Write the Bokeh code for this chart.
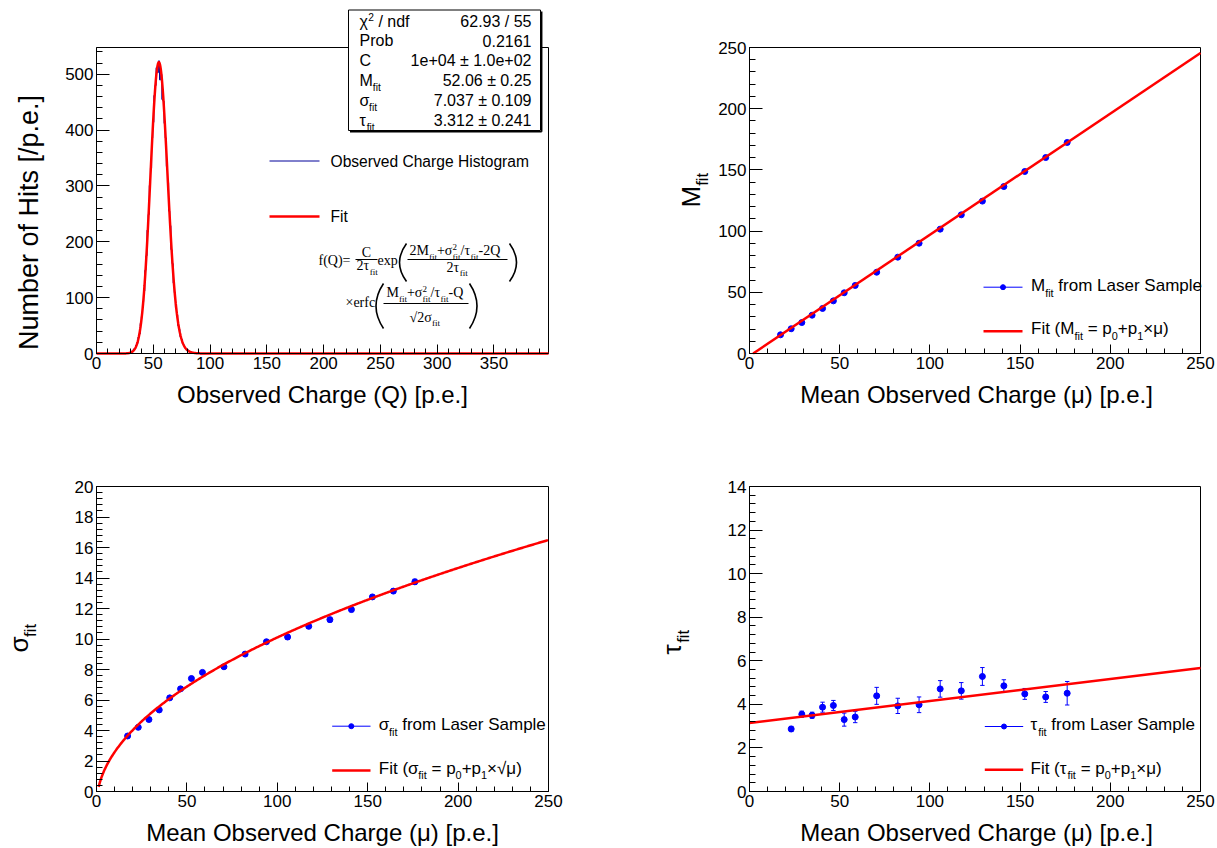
import math
from bokeh.plotting import figure
from bokeh.layouts import gridplot
from bokeh.models import Label, FixedTicker, LinearAxis
from bokeh.embed import file_html
from bokeh.resources import INLINE

# ---------------- data ----------------
hist_first_edge = 27.5          # lower edge of first non-empty bin [p.e.]
hist_bin_width = 1.0
hist_counts = [1, 0, 2, 4, 4, 8, 9, 15, 18, 29,
               35, 54, 66, 93, 112, 149, 175, 221, 249, 301,
               332, 386, 414, 462, 480, 512, 503, 524, 490, 500,
               455, 452, 412, 386, 335, 306, 255, 229, 186, 161,
               126, 109, 82, 69, 50, 43, 30, 26, 18, 15,
               10, 9, 5, 6, 3, 3, 2, 1, 1, 0, 1]
hist_xmax = 398.0
hist_ymax = 548.0
fit_C, fit_M, fit_sigma, fit_tau = 1.0e4, 52.06, 7.037, 3.312

stats_values = ["62.93 / 55", "0.2161", "1e+04 ± 1.0e+02", "52.06 ± 0.25",
                "7.037 ± 0.109", "3.312 ± 0.241"]

mu = [17.2, 23.1, 29.0, 34.7, 40.5, 46.5, 52.5, 58.6, 70.5, 82.2,
      94.0, 105.7, 117.4, 129.1, 141.0, 152.6, 164.2, 176.1]
M_fit = [15.3, 20.2, 25.3, 31.3, 36.8, 43.0, 49.6, 55.6, 66.4, 78.7,
         90.1, 101.6, 113.3, 124.5, 136.4, 148.7, 160.1, 172.4]
M_err = [0.3, 0.3, 0.3, 0.3, 0.3, 0.3, 0.3, 0.3, 0.4, 0.4,
         0.4, 0.4, 0.5, 0.5, 0.5, 0.5, 0.5, 0.6]
sigma_fit = [3.64, 4.21, 4.72, 5.35, 6.14, 6.73, 7.41, 7.81, 8.18, 9.01,
             9.82, 10.13, 10.83, 11.27, 11.93, 12.76, 13.14, 13.75]
sigma_err = [0.10, 0.10, 0.10, 0.10, 0.10, 0.10, 0.10, 0.10, 0.12, 0.12,
             0.12, 0.15, 0.14, 0.15, 0.14, 0.12, 0.13, 0.17]
mu_tau = [23.1, 29.0, 34.7, 40.5, 46.5, 52.5, 58.6, 70.5, 82.2, 94.0,
          105.7, 117.4, 129.1, 141.0, 152.6, 164.2, 176.1]
tau_fit = [2.87, 3.55, 3.50, 3.87, 3.95, 3.30, 3.42, 4.39, 3.93, 3.98,
           4.71, 4.62, 5.28, 4.85, 4.48, 4.34, 4.51]
tau_err = [0.12, 0.14, 0.14, 0.23, 0.23, 0.30, 0.26, 0.39, 0.35, 0.36,
           0.38, 0.38, 0.41, 0.28, 0.25, 0.25, 0.54]

M_p0, M_p1 = -2.0, 0.99          # M_fit = p0 + p1*mu
S_p0, S_p1 = -0.9, 1.10          # sigma_fit = p0 + p1*sqrt(mu)
T_p0, T_p1 = 3.14, 0.0101        # tau_fit = p0 + p1*mu

# ---------------- helpers ----------------
SANS = "Liberation Sans"
SERIF = "Liberation Serif"
NB = "\u00a0"
W_SANS = {' ': .278, NB: .278, 'a': .556, 'b': .556, 'c': .5, 'd': .556, 'e': .556, 'f': .278,
          'g': .556, 'h': .556, 'i': .222, 'l': .222, 'm': .833, 'n': .556, 'o': .556, 'p': .556,
          'r': .333, 's': .5, 't': .278, 'u': .556, 'v': .5, 'x': .5, 'L': .556, 'S': .667,
          'M': .833, 'F': .611, 'C': .722, 'P': .667, '(': .333, ')': .333, '[': .278, ']': .278,
          '/': .278, '.': .278, '=': .584, '+': .584, '-': .333, '×': .584, 'μ': .576, 'σ': .6,
          'τ': .45, 'χ': .55, '±': .584, '√': .55}
for d in "0123456789":
    W_SANS[d] = .556
W_SERIF = {'C': .667, 'Q': .722, 'f': .333, '(': .333, ')': .333, '=': .564, 'M': .889,
           '+': .564, 'σ': .55, '/': .278, 'τ': .44, '-': .333, 'e': .444, 'x': .5, 'p': .5,
           'r': .333, 'c': .444, '×': .564, 'i': .278, 't': .278, '√': .55}
for d in "0123456789":
    W_SERIF[d] = .5


def tw(s, fs, serif=False):
    tab = W_SERIF if serif else W_SANS
    return sum(tab.get(c, 0.55) for c in s) * fs


def ticks(start, stop, step):
    out, v = [], start
    while v <= stop + 1e-9:
        out.append(round(v, 6))
        v += step
    return out


class Panel:
    """A figure whose Bokeh frame covers the whole figure; the ROOT-style frame
    (rl, rr, rt, rb in page pixels) maps to the data box (x0..x1, y0..y1)."""

    def __init__(self, fig_box, root_box, xr, yr, xt, xm, yt, ym):
        fx0, fx1, fy0, fy1 = fig_box
        self.rl, self.rr, self.rt, self.rb = root_box
        self.x0, self.x1 = xr
        self.y0, self.y1 = yr
        p = figure(width=fx1 - fx0, height=fy1 - fy0,
                   x_range=(self.X(fx0), self.X(fx1)), y_range=(self.Y(fy1), self.Y(fy0)),
                   output_backend="svg", toolbar_location=None, min_border=0,
                   x_axis_location=None, y_axis_location=None)
        p.background_fill_color = "white"
        p.border_fill_color = "white"
        p.outline_line_color = None
        p.xgrid.visible = False
        p.ygrid.visible = False
        self.p = p
        # ROOT frame box
        p.quad(left=[self.x0], right=[self.x1], bottom=[self.y0], top=[self.y1],
               fill_color=None, line_color="black", line_width=1)
        xa = LinearAxis(fixed_location=self.y0, bounds=(self.x0, self.x1),
                        ticker=FixedTicker(ticks=xt, minor_ticks=xm))
        ya = LinearAxis(fixed_location=self.x0, bounds=(self.y0, self.y1),
                        ticker=FixedTicker(ticks=yt, minor_ticks=ym))
        for ax in (xa, ya):
            ax.major_label_text_font = SANS
            ax.major_label_text_font_size = "17px"
            ax.major_label_text_color = "black"
            ax.axis_line_color = "black"
            ax.major_tick_line_color = "black"
            ax.minor_tick_line_color = "black"
            ax.major_tick_out = 0
            ax.minor_tick_out = 0
            ax.major_label_standoff = 3
        xa.major_tick_in = 9
        xa.minor_tick_in = 5
        ya.major_tick_in = 13
        ya.minor_tick_in = 6
        p.add_layout(xa, "below")
        p.add_layout(ya, "left")

    def X(self, px):
        return self.x0 + (px - self.rl) * (self.x1 - self.x0) / (self.rr - self.rl)

    def Y(self, py):
        return self.y0 + (self.rb - py) * (self.y1 - self.y0) / (self.rb - self.rt)

    def dx(self, npx):
        return npx * (self.x1 - self.x0) / (self.rr - self.rl)

    def seg(self, px0, py0, px1, py1, color="black", width=1.0):
        self.p.segment(x0=[self.X(px0)], y0=[self.Y(py0)], x1=[self.X(px1)], y1=[self.Y(py1)],
                       line_color=color, line_width=width)

    def paren(self, xa, ya, xb, yb, xc, yc, width=1.6):
        self.p.quadratic(x0=[self.X(xa)], y0=[self.Y(ya)], x1=[self.X(xb)], y1=[self.Y(yb)],
                         cx=[self.X(xc)], cy=[self.Y(yc)], line_color="black", line_width=width)


def put(pn, px, py, text, fs, font=SANS, align="left", angle=0.0, color="black"):
    """(px, py) is the alphabetic baseline point in page pixels; rendered with a
    middle baseline shifted by the font's mid-height."""
    if angle:
        px = px - 0.35 * fs
    else:
        py = py - 0.35 * fs
    pn.p.add_layout(Label(x=pn.X(px), y=pn.Y(py), text=text, text_font=font,
                          text_font_size=f"{fs}px", text_align=align,
                          text_baseline="middle", angle=angle, text_color=color))


def rich(pn, px, py, pieces, fs, font=SANS, vertical=False, color="black",
         sub_scale=0.64, drop=0.30, rise=0.40):
    serif = font == SERIF
    s = round(fs * sub_scale, 1)
    pos = py if vertical else px

    def piece(off, text, size):
        text = text.replace(" ", NB)
        if vertical:
            put(pn, px + off, pos, text, size, font, angle=math.pi / 2, color=color)
        else:
            put(pn, pos, py + off, text, size, font, color=color)

    for it in pieces:
        text, mode = it[0], it[1]
        if mode == "n":
            piece(0, text, fs)
            w = tw(text, fs, serif)
        elif mode == "b":
            piece(drop * fs, text, s)
            w = tw(text, s, serif)
        elif mode == "p":
            piece(-rise * fs, text, s)
            w = tw(text, s, serif)
        else:  # "bp": subscript + superscript stacked
            piece(drop * fs, text, s)
            piece(-rise * fs, it[2], s)
            w = max(tw(text, s, serif), tw(it[2], s, serif))
        pos = pos - w if vertical else pos + w


def emg(q):
    lam = 1.0 / fit_tau
    arg = (fit_M + fit_sigma ** 2 * lam - q) / (math.sqrt(2.0) * fit_sigma)
    return (fit_C * lam / 2.0 * math.exp(lam / 2.0 * (2 * fit_M + lam * fit_sigma ** 2 - 2 * q))
            * math.erfc(arg))


RED = "#ff0000"
BLUE = "#0000ff"
NAVY = "#000099"
LF = 17

# ================= top-left: histogram =================
tl = Panel((0, 608, 0, 424), (96, 548, 47, 353), (0, hist_xmax), (0, hist_ymax),
           ticks(0, 350, 50), ticks(0, 390, 10), ticks(0, 500, 100), ticks(0, 540, 20))
p1 = tl.p
edges = [hist_first_edge + i * hist_bin_width for i in range(len(hist_counts) + 1)]
hx, hy = [0.0, edges[0]], [0, 0]
for i, c in enumerate(hist_counts):
    hx += [edges[i], edges[i + 1]]
    hy += [c, c]
hx += [edges[-1], hist_xmax]
hy += [0, 0]
p1.line(hx, hy, line_color=NAVY, line_width=1)
qx = [i * 0.25 for i in range(int(hist_xmax * 4) + 1)]
p1.line(qx, [emg(q) for q in qx], line_color=RED, line_width=2.5)

# stats box
p1.quad(left=[tl.X(348)], right=[tl.X(540)], top=[tl.Y(9.5)], bottom=[tl.Y(130)],
        fill_color="white", line_color="black", line_width=1)
tl.seg(349.5, 131.2, 541.2, 131.2, width=1.5)
tl.seg(541.2, 11, 541.2, 131.2, width=1.5)
row_base = [26.5, 46, 65.5, 85.5, 105.5, 125.5]
name_pieces = [[("χ", "n"), ("2", "p"), (" / ndf", "n")], [("Prob", "n")], [("C", "n")],
               [("M", "n"), ("fit", "b")], [("σ", "n"), ("fit", "b")], [("τ", "n"), ("fit", "b")]]
for pcs, b, val in zip(name_pieces, row_base, stats_values):
    rich(tl, 359, b, pcs, 16)
    put(tl, 531, b, val.replace(" ", NB), 16, align="right")

# legend
tl.seg(269, 160.5, 319, 160.5, color=NAVY, width=1)
put(tl, 330, 166, "Observed Charge Histogram", 15.6)
tl.seg(269, 216, 319, 216, color=RED, width=2.5)
put(tl, 330, 221.5, "Fit", 15.6)

# formula
F = 14
put(tl, 318, 264.5, "f(Q)=", F, SERIF)
put(tl, 366, 256.5, "C", F, SERIF, align="center")
rich(tl, 356, 270, [("2τ", "n"), ("fit", "b")], F, SERIF)
put(tl, 377, 264.5, "exp", F, SERIF)
rich(tl, 409, 255, [("2M", "n"), ("fit", "b"), ("+σ", "n"), ("fit", "bp", "2"), ("/τ", "n"),
                    ("fit", "b"), ("-2Q", "n")], F, SERIF)
rich(tl, 446, 271.5, [("2τ", "n"), ("fit", "b")], F, SERIF)
put(tl, 345, 307, "×erfc", F, SERIF)
rich(tl, 386, 297, [("M", "n"), ("fit", "b"), ("+σ", "n"), ("fit", "bp", "2"), ("/τ", "n"),
                    ("fit", "b"), ("-Q", "n")], F, SERIF)
rich(tl, 409, 321.5, [("√", "n"), ("2σ", "n"), ("fit", "b")], F, SERIF)
tl.seg(355, 259, 377, 259)
tl.seg(407, 259, 507, 259)
tl.seg(383, 303, 468, 303)
tl.paren(406, 243, 406, 281, 392, 262)
tl.paren(509, 243, 509, 281, 523, 262)
tl.paren(383, 283, 383, 328, 368, 305.5)
tl.paren(469, 283, 469, 328, 484, 305.5)

put(tl, 322, 402, "Observed Charge (Q) [p.e.]", 24, align="center")
put(tl, 38, 222, "Number of Hits [/p.e.]", 27, align="center", angle=math.pi / 2)

# ================= top-right: M_fit =================
tr = Panel((608, 1217, 0, 424), (749, 1200, 47, 353), (0, 250), (0, 250),
           ticks(0, 250, 50), ticks(0, 250, 10), ticks(0, 250, 50), ticks(0, 250, 10))
p2 = tr.p
p2.segment(x0=mu, y0=[m - e for m, e in zip(M_fit, M_err)], x1=mu,
           y1=[m + e for m, e in zip(M_fit, M_err)], line_color=BLUE, line_width=1)
p2.scatter(mu, M_fit, size=6, color=BLUE)
fx = [-M_p0 / M_p1, 250]
p2.line(fx, [M_p0 + M_p1 * v for v in fx], line_color=RED, line_width=2.5)
tr.seg(983, 286.7, 1022, 286.7, color=BLUE, width=1)
p2.scatter([tr.X(1002.5)], [tr.Y(286.7)], size=5, color=BLUE)
tr.seg(983, 330.7, 1022, 330.7, color=RED, width=2.5)
rich(tr, 1030.5, 291, [("M", "n"), ("fit", "b"), (" from Laser Sample", "n")], LF)
rich(tr, 1030.5, 334, [("Fit (M", "n"), ("fit", "b"), (" = p", "n"), ("0", "b"), ("+p", "n"),
                       ("1", "b"), ("×μ)", "n")], LF)
put(tr, 976, 402, "Mean Observed Charge (μ) [p.e.]", 24, align="center")
rich(tr, 700, 207, [("M", "n"), ("fit", "b")], 26, vertical=True)

# ================= bottom-left: sigma_fit =================
bl = Panel((0, 608, 424, 848), (96, 548, 486, 791), (0, 250), (0, 20),
           ticks(0, 250, 50), ticks(0, 250, 10), ticks(0, 20, 2), ticks(0, 20, 0.4))
p3 = bl.p
cap = bl.dx(2.2)
slo = [s - e for s, e in zip(sigma_fit, sigma_err)]
shi = [s + e for s, e in zip(sigma_fit, sigma_err)]
p3.segment(x0=mu, y0=slo, x1=mu, y1=shi, line_color=BLUE, line_width=1)
p3.segment(x0=[m - cap for m in mu] * 2, x1=[m + cap for m in mu] * 2,
           y0=slo + shi, y1=slo + shi, line_color=BLUE, line_width=1)
p3.scatter(mu, sigma_fit, size=6, color=BLUE)
sx = [1.2 + i * 0.5 for i in range(498)]
p3.line(sx, [S_p0 + S_p1 * math.sqrt(v) for v in sx], line_color=RED, line_width=2.5)
bl.seg(331.7, 725.7, 370, 725.7, color=BLUE, width=1)
p3.scatter([bl.X(350.8)], [bl.Y(725.7)], size=5, color=BLUE)
bl.seg(331.7, 770, 370, 770, color=RED, width=2.5)
rich(bl, 378.3, 730, [("σ", "n"), ("fit", "b"), (" from Laser Sample", "n")], LF)
rich(bl, 378.3, 773.5, [("Fit (σ", "n"), ("fit", "b"), (" = p", "n"), ("0", "b"), ("+p", "n"),
                        ("1", "b"), ("×√μ)", "n")], LF)
put(bl, 322, 840, "Mean Observed Charge (μ) [p.e.]", 24, align="center")
rich(bl, 28, 652, [("σ", "n"), ("fit", "b")], 26, vertical=True)

# ================= bottom-right: tau_fit =================
br = Panel((608, 1217, 424, 848), (749, 1200, 486, 791), (0, 250), (0, 14),
           ticks(0, 250, 50), ticks(0, 250, 10), ticks(0, 14, 2), ticks(0, 14, 0.4))
p4 = br.p
cap = br.dx(2.2)
lo = [t - e for t, e in zip(tau_fit, tau_err)]
hi = [t + e for t, e in zip(tau_fit, tau_err)]
p4.segment(x0=mu_tau, y0=lo, x1=mu_tau, y1=hi, line_color=BLUE, line_width=1)
p4.segment(x0=[m - cap for m in mu_tau] * 2, x1=[m + cap for m in mu_tau] * 2,
           y0=lo + hi, y1=lo + hi, line_color=BLUE, line_width=1)
p4.scatter(mu_tau, tau_fit, size=6, color=BLUE)
tx = [0, 250]
p4.line(tx, [T_p0 + T_p1 * v for v in tx], line_color=RED, line_width=2.5)
br.seg(984.3, 726, 1022.7, 726, color=BLUE, width=1)
p4.scatter([br.X(1003.5)], [br.Y(726)], size=5, color=BLUE)
br.seg(984.3, 769.3, 1022.7, 769.3, color=RED, width=2.5)
rich(br, 1030, 730, [("τ", "n"), ("fit", "b"), (" from Laser Sample", "n")], LF)
rich(br, 1030, 773.5, [("Fit (τ", "n"), ("fit", "b"), (" = p", "n"), ("0", "b"), ("+p", "n"),
                       ("1", "b"), ("×μ)", "n")], LF)
put(br, 976, 840, "Mean Observed Charge (μ) [p.e.]", 24, align="center")
rich(br, 681, 654, [("τ", "n"), ("fit", "b")], 26, vertical=True)

grid = gridplot([[p1, p2], [p3, p4]], toolbar_location=None)
open("out.html", "w").write(file_html(grid, INLINE))
